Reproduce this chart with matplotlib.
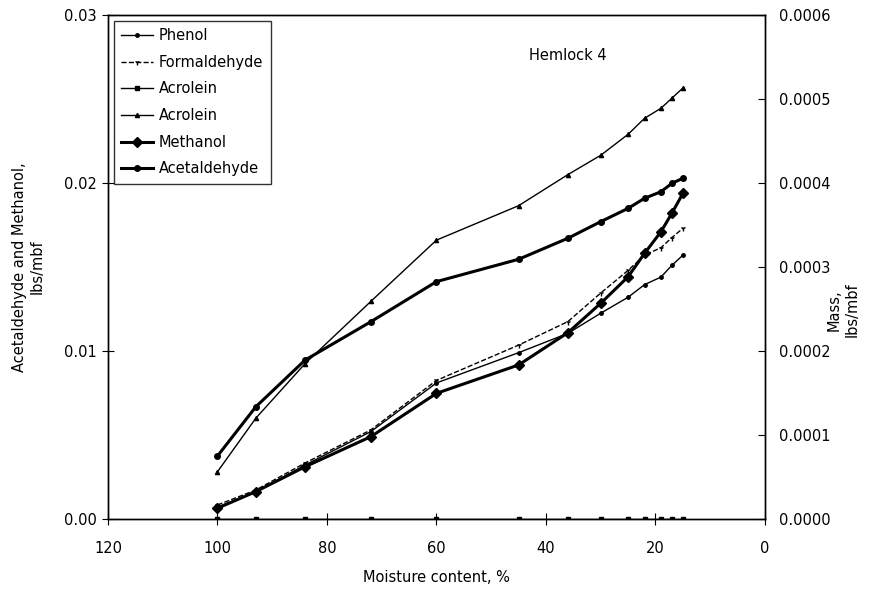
import matplotlib.pyplot as plt

plt.rcParams['font.family'] = ['DejaVu Sans']

# moisture content, %
moisture = [100, 93, 84, 72, 60, 45, 36, 30, 25, 22, 19, 17, 15]

# left axis, lbs/mbf
methanol = [0.00064, 0.00163, 0.00311, 0.0049, 0.00748, 0.00917, 0.01109,
            0.01284, 0.01442, 0.01581, 0.0171, 0.0182, 0.01938]
acetaldehyde = [0.00375, 0.00668, 0.00946, 0.01174, 0.01413, 0.01546, 0.01671,
                0.0177, 0.01849, 0.01909, 0.01948, 0.01998, 0.02028]

# right axis, lbs/mbf
phenol = [0.0000143, 0.0000321, 0.0000643, 0.000104, 0.000162, 0.000198, 0.000221,
          0.000245, 0.000264, 0.000279, 0.000288, 0.000302, 0.000314]
formaldehyde = [0.0000167, 0.0000345, 0.0000667, 0.000106, 0.000165, 0.000207, 0.000235,
                0.000269, 0.000296, 0.000314, 0.000323, 0.000335, 0.000346]
acrolein_1 = [0.0] * 13
acrolein_2 = [0.0000563, 0.00012, 0.000185, 0.000259, 0.000332, 0.000373, 0.00041,
              0.000433, 0.000458, 0.000477, 0.000489, 0.000501, 0.000513]

fig = plt.figure(figsize=(8.86, 5.93), dpi=100)
ax = fig.add_axes([0.1219, 0.1248, 0.7415, 0.8499])
ax2 = ax.twinx()

h1, = ax2.plot(moisture, phenol, color='black', lw=1.0, marker='o', ms=2.5, label='Phenol')
h2, = ax2.plot(moisture, formaldehyde, color='black', lw=1.0, ls='--', marker='1', ms=4,
               label='Formaldehyde')
h3, = ax2.plot(moisture, acrolein_1, color='black', lw=1.0, marker='s', ms=3, label='Acrolein')
h4, = ax2.plot(moisture, acrolein_2, color='black', lw=1.0, marker='^', ms=3, label='Acrolein')
h5, = ax.plot(moisture, methanol, color='black', lw=2.2, marker='D', ms=5, label='Methanol')
h6, = ax.plot(moisture, acetaldehyde, color='black', lw=2.2, marker='o', ms=4,
              label='Acetaldehyde')

ax.set_xlim(120, 0)
ax.set_ylim(0, 0.03)
ax2.set_ylim(0, 0.0006)
ax.set_xticks([120, 100, 80, 60, 40, 20, 0])
ax.set_yticks([0.0, 0.01, 0.02, 0.03])
ax.set_yticklabels(['0.00', '0.01', '0.02', '0.03'])
ax2.set_yticks([0, 0.0001, 0.0002, 0.0003, 0.0004, 0.0005, 0.0006])
ax2.set_yticklabels(['0.0000', '0.0001', '0.0002', '0.0003', '0.0004', '0.0005', '0.0006'])

ax.tick_params(axis='y', direction='inout', length=8, labelsize=10.5, pad=4)
ax.tick_params(axis='x', direction='inout', length=8, labelsize=10.5, pad=12)
ax2.tick_params(axis='y', direction='in', length=5, labelsize=10.5, pad=10)
for a in (ax, ax2):
    for s in a.spines.values():
        s.set_linewidth(1.0)

ax.set_xlabel('Moisture content, %', fontsize=10.5, labelpad=10)
ax.set_ylabel('Acetaldehyde and Methanol,\nlbs/mbf', fontsize=10.5, labelpad=14)
# right axis title sits close to the tick labels, as in the original
fig.text(0.9515, 0.477, 'Mass,\nlbs/mbf', fontsize=10.5, rotation=90,
         ha='center', va='center', multialignment='center')
ax.text(36, 0.0276, 'Hemlock 4', fontsize=10.5, ha='center', va='center')

leg = ax2.legend(handles=[h1, h2, h3, h4, h5, h6], loc='upper left',
                 fontsize=10.5, frameon=True, fancybox=False, edgecolor='black',
                 borderaxespad=0.4, handlelength=2.2, handletextpad=0.4,
                 labelspacing=0.8, borderpad=0.5)
leg.get_frame().set_linewidth(1.0)

fig.savefig('out.png', dpi=100)
